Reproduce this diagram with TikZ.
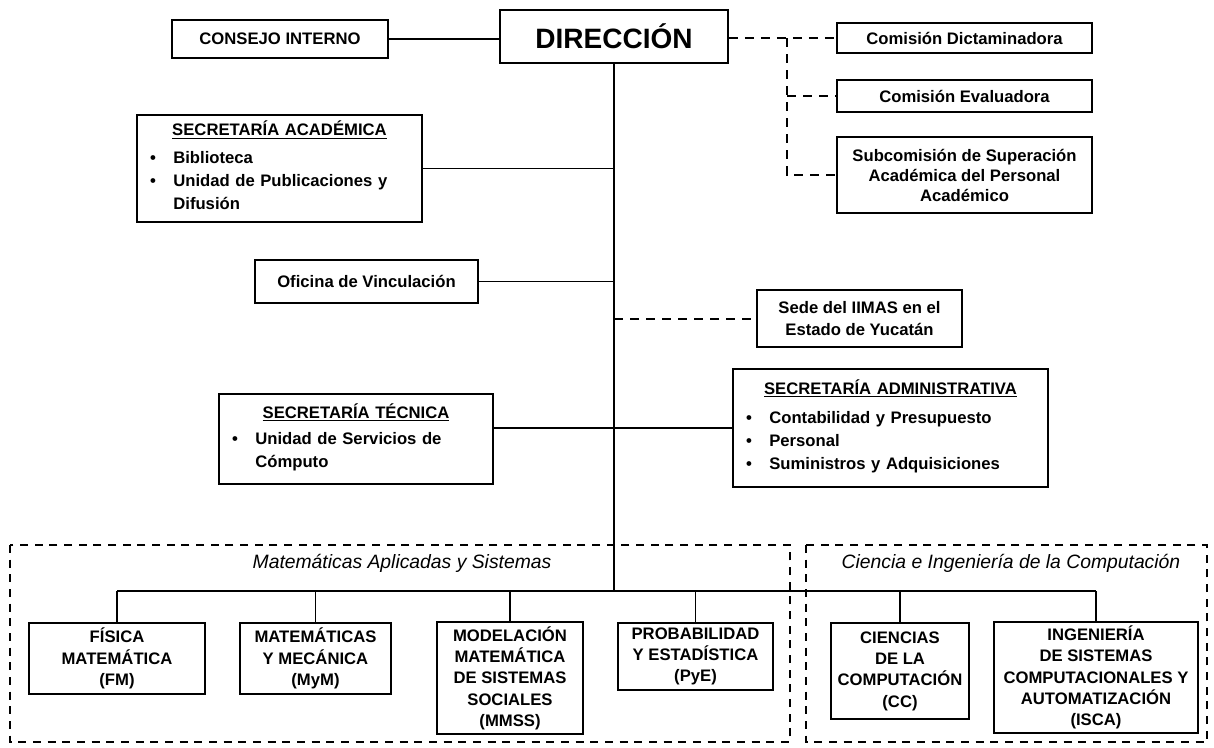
\documentclass[tikz,border=0pt]{standalone}
\usepackage{fontspec}
\setmainfont{Liberation Sans}

\newcommand{\punto}[1]{\par\noindent\makebox[1.7em][l]{\hspace{0.3em}\textbullet}%
  \parbox[t]{\dimexpr\hsize-1.7em\relax}{\raggedright\strut#1\strut}}

\begin{document}
\begin{tikzpicture}[x=0.75pt,y=-0.75pt,
    base/.style={draw,line width=1.3pt,inner sep=3pt},
    caja/.style={base,align=center,font=\bfseries\fontsize{12.5}{16}\selectfont},
    tam/.style 2 args={minimum width=#1*0.75pt,minimum height=#2*0.75pt},
    lista/.style={base,text width=#1*0.75pt,
      font=\bfseries\fontsize{12.5}{17}\selectfont},
    linea/.style={line width=1.3pt},
    troncal/.style={line width=1.8pt},
    punteado/.style={line width=1.5pt,dash pattern=on 7pt off 5pt},
    marco/.style={line width=1.4pt,dash pattern=on 6pt off 5pt},
    titulo/.style={font=\itshape\fontsize{14.5}{17}\selectfont}]
  \useasboundingbox (0,0) rectangle (1214,747);

  \node[caja,tam={216}{38}] (consejo) at (280,39) {CONSEJO INTERNO};
  \node[caja,tam={228}{53},font=\bfseries\fontsize{21}{25}\selectfont] (direccion) at (614,36.5) {DIRECCIÓN};
  \node[caja,tam={255}{30}] (dictam) at (964.5,38) {Comisión Dictaminadora};
  \node[caja,tam={255}{32}] (evalua) at (964.5,96) {Comisión Evaluadora};
  \node[caja,tam={255}{76},font=\bfseries\fontsize{12.5}{15}\selectfont] (subcom) at (964.5,175)
    {Subcomisión de Superación\\Académica del Personal\\Académico};

  \node[lista=269,tam={285}{107}] (acad) at (279.5,168.5)
    {\raggedright{\centering\underline{SECRETARÍA ACADÉMICA}\par}\vspace{4pt}
     \punto{Biblioteca}
     \punto{Unidad de Publicaciones y\\Difusión}};
  \node[caja,tam={223}{43}] (oficina) at (366.5,281.5) {Oficina de Vinculación};
  \node[caja,tam={205}{57}] (sede) at (859.5,318.5) {Sede del IIMAS en el\\Estado de Yucatán};
  \node[lista=258,tam={274}{90}] (tecnica) at (356,439)
    {\raggedright{\centering\underline{SECRETARÍA TÉCNICA}\par}\vspace{3pt}
     \punto{Unidad de Servicios de\\Cómputo}};
  \node[lista=299,tam={315}{118}] (admin) at (890.5,428)
    {\raggedright{\centering\underline{SECRETARÍA ADMINISTRATIVA}\par}\vspace{5pt}
     \punto{Contabilidad y Presupuesto}
     \punto{Personal}
     \punto{Suministros y Adquisiciones}};

  \draw[marco] (10,545) rectangle (790,742);
  \draw[marco] (806,545) rectangle (1207,742);
  \node[titulo] (tmas) at (402,563) {Matemáticas Aplicadas y Sistemas};
  \node[titulo] (tcic) at (1011,563) {Ciencia e Ingeniería de la Computación};

  \node[caja,tam={176}{71}] (fm) at (117,658.5) {FÍSICA\\MATEMÁTICA\\(FM)};
  \node[caja,tam={151}{71}] (mym) at (315.5,658.5) {MATEMÁTICAS\\Y MECÁNICA\\(MyM)};
  \node[caja,tam={146}{110}] (mmss) at (510,678) {MODELACIÓN\\MATEMÁTICA\\DE SISTEMAS\\SOCIALES\\(MMSS)};
  \node[caja,tam={155}{67}] (pye) at (695.5,656.5) {PROBABILIDAD\\Y ESTADÍSTICA\\(PyE)};
  \node[caja,tam={138}{96},inner sep=1pt] (cc) at (900,671) {CIENCIAS\\DE LA\\COMPUTACIÓN\\(CC)};
  \node[caja,tam={204}{111},inner sep=1pt] (isca) at (1096,677.5) {INGENIERÍA\\DE SISTEMAS\\COMPUTACIONALES Y\\AUTOMATIZACIÓN\\(ISCA)};

  \coordinate (ramal) at (787,38);
  \coordinate (bus) at (614,591);

  \draw[linea] (consejo.east) -- (consejo.east -| direccion.west);
  \draw[punteado] (direccion.east |- dictam.west) -- (dictam.west);
  \draw[punteado] (ramal) |- (subcom.west);
  \draw[punteado] (ramal |- evalua.west) -- (evalua.west);

  \draw[troncal] (direccion.south) -- (bus);
  \draw[linea] (acad.east) -- (acad.east -| direccion.south);
  \draw[linea] (oficina.east) -- (oficina.east -| direccion.south);
  \draw[punteado] (sede.west -| direccion.south) -- (sede.west);
  \draw[linea] (tecnica.east |- admin.west) -- (admin.west);

  \draw[linea] (fm.north |- bus) -- (isca.north |- bus);
  \foreach \n in {fm,mym,mmss,pye,cc,isca}
    \draw[linea] (\n.north |- bus) -- (\n.north);
\end{tikzpicture}
\end{document}
